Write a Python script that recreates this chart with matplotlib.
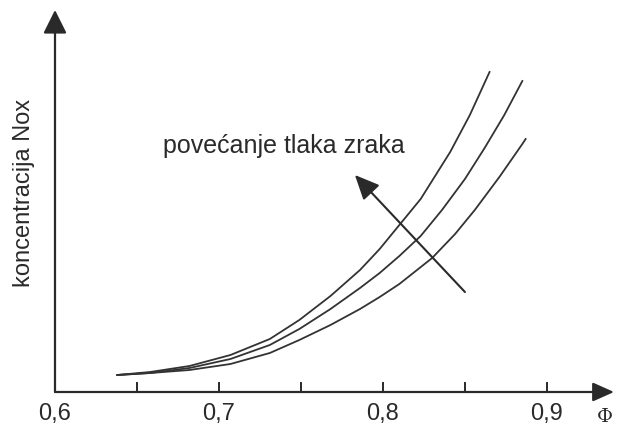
import matplotlib
matplotlib.use("Agg")
import matplotlib.pyplot as plt

# Podaci (očitano sa slike, proizvoljne jedinice za NOx)
phi_1 = [0.638, 0.658, 0.682, 0.707, 0.731, 0.749, 0.768, 0.786, 0.798,
         0.810, 0.823, 0.841, 0.853, 0.865]
nox_1 = [17, 20, 26, 37, 53, 72, 96, 122, 143, 167, 193, 240, 277, 320]

phi_2 = [0.638, 0.658, 0.682, 0.707, 0.731, 0.749, 0.768, 0.786, 0.798,
         0.810, 0.823, 0.836, 0.850, 0.862, 0.874, 0.885]
nox_2 = [17, 19, 24, 33, 47, 63, 83, 104, 119, 136, 156, 182, 213, 244, 277, 311]

phi_3 = [0.638, 0.658, 0.682, 0.707, 0.731, 0.749, 0.768, 0.786, 0.798,
         0.810, 0.830, 0.844, 0.856, 0.871, 0.885, 0.887]
nox_3 = [17, 19, 22, 28, 39, 52, 67, 83, 95, 108, 134, 158, 182, 215, 248, 253]

x_ticks = [0.6, 0.7, 0.8, 0.9]
x_labels = ["0,6", "0,7", "0,8", "0,9"]
x_minor = [0.65, 0.75, 0.85]

plt.rcParams['font.family'] = ['Liberation Sans', 'DejaVu Sans']
boja = '#2a2a2a'

fig = plt.figure(figsize=(6.19, 4.36), dpi=100)
ax = fig.add_axes([55 / 619, 44 / 436, 559 / 619, 382 / 436])
ax.set_xlim(0.6, 0.9409)
ax.set_ylim(0, 382)

for s in ax.spines.values():
    s.set_visible(False)

# osi sa strelicama
ax.annotate('', xy=(1, 0), xytext=(0, 0), xycoords='axes fraction',
            arrowprops=dict(arrowstyle='-|>,head_length=0.65,head_width=0.29',
                            color=boja, lw=1.6, mutation_scale=20,
                            shrinkA=0, shrinkB=0),
            annotation_clip=False)
ax.annotate('', xy=(0, 1), xytext=(0, 0), xycoords='axes fraction',
            arrowprops=dict(arrowstyle='-|>,head_length=0.72,head_width=0.36',
                            color=boja, lw=1.6, mutation_scale=20,
                            shrinkA=0, shrinkB=0),
            annotation_clip=False)

# krivulje
for phi, nox in [(phi_1, nox_1), (phi_2, nox_2), (phi_3, nox_3)]:
    ax.plot(phi, nox, color='#333333', lw=1.3, solid_joinstyle='round')

# strelica povećanja tlaka
ax.annotate('', xy=(0.7829, 217), xytext=(0.85, 100),
            arrowprops=dict(arrowstyle='-|>,head_length=0.75,head_width=0.34',
                            color=boja, lw=1.5, mutation_scale=20,
                            shrinkA=0, shrinkB=0))
ax.text(0.6659, 239, "povećanje tlaka zraka", fontsize=18, color=boja,
        ha='left', va='baseline')

ax.set_xticks(x_ticks)
ax.set_xticklabels(x_labels, fontsize=17, color=boja)
ax.set_xticks(x_minor, minor=True)
ax.tick_params(axis='x', which='both', direction='in', length=7, width=1.4,
               color=boja, pad=8)
ax.set_yticks([])

ax.set_ylabel("koncentracija Nox", fontsize=17, color=boja)
ax.yaxis.set_label_coords(-0.036, 0.52)
fig.text(605 / 619, 1 - 417 / 436, "Φ", fontsize=14, color=boja,
         family=['DejaVu Serif'], ha='center', va='center')

fig.savefig("out.png", dpi=100, facecolor='white')
